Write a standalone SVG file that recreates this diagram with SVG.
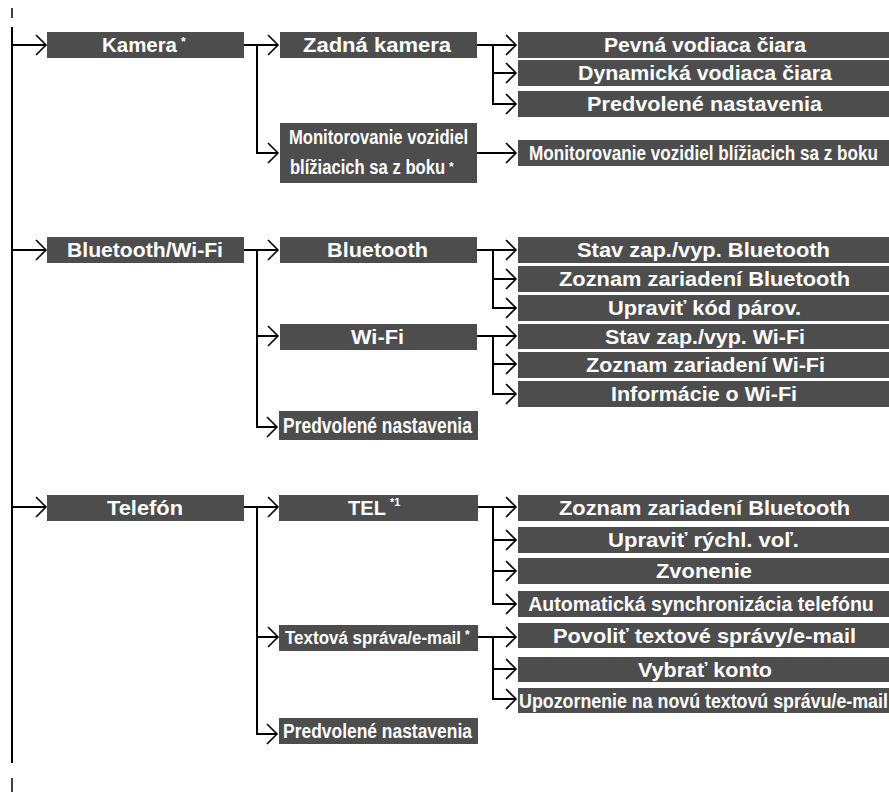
<svg xmlns="http://www.w3.org/2000/svg" width="889" height="792" viewBox="0 0 889 792">
<style>
.b{fill:#4d4d4d}
.t{font-family:"Liberation Sans",Arial,sans-serif;font-weight:bold;font-size:20px;fill:#fff;text-anchor:middle}
.s{font-family:"Liberation Sans",Arial,sans-serif;font-weight:bold;font-size:12px;fill:#fff}
.c{fill:none;stroke:#000;stroke-width:2}
</style>
<defs>
<marker id="ch" markerUnits="userSpaceOnUse" markerWidth="14" markerHeight="22" viewBox="0 0 14 22" refX="11" refY="11" orient="auto">
<path d="M1,1 L11,11 L1,21" fill="none" stroke="#000" stroke-width="1.6"/>
</marker>
</defs>
<rect width="889" height="792" fill="#fff"/>
<g id="connectors" class="c">
<path d="M12,8 V18" stroke-width="1.5"/>
<path d="M12,27 V763"/>
<path d="M12,778 V792" stroke-width="1.5"/>
<path d="M12,45 H46" marker-end="url(#ch)"/>
<path d="M12,250 H46" marker-end="url(#ch)"/>
<path d="M12,507 H46" marker-end="url(#ch)"/>
<path d="M244,45 H278" marker-end="url(#ch)"/>
<path d="M257,45 V153 H278" marker-end="url(#ch)"/>
<path d="M244,250 H278" marker-end="url(#ch)"/>
<path d="M257,250 V336 H278" marker-end="url(#ch)"/>
<path d="M257,336 V427 H277" marker-end="url(#ch)"/>
<path d="M244,507 H278" marker-end="url(#ch)"/>
<path d="M257,507 V637 H278" marker-end="url(#ch)"/>
<path d="M257,637 V734 H277" marker-end="url(#ch)"/>
<path d="M477,45 H516" marker-end="url(#ch)"/>
<path d="M493,45 V73 H516" marker-end="url(#ch)"/>
<path d="M493,73 V104 H516" marker-end="url(#ch)"/>
<path d="M477,153 H516" marker-end="url(#ch)"/>
<path d="M477,250 H516" marker-end="url(#ch)"/>
<path d="M493,250 V279 H516" marker-end="url(#ch)"/>
<path d="M493,279 V308 H516" marker-end="url(#ch)"/>
<path d="M477,336 H516" marker-end="url(#ch)"/>
<path d="M493,336 V364 H516" marker-end="url(#ch)"/>
<path d="M493,364 V394 H516" marker-end="url(#ch)"/>
<path d="M477,507 H516" marker-end="url(#ch)"/>
<path d="M493,507 V540 H516" marker-end="url(#ch)"/>
<path d="M493,540 V571 H516" marker-end="url(#ch)"/>
<path d="M493,571 V604 H516" marker-end="url(#ch)"/>
<path d="M477,637 H516" marker-end="url(#ch)"/>
<path d="M493,637 V669 H516" marker-end="url(#ch)"/>
<path d="M493,669 V699 H516" marker-end="url(#ch)"/>
</g>
<g id="kamera"><rect class="b" x="47" y="32" width="197" height="26"/><text class="t" x="139.5" y="52" textLength="75" lengthAdjust="spacingAndGlyphs">Kamera</text><text class="s" x="181" y="46">*</text></g>
<g id="bluetooth-wifi"><rect class="b" x="47" y="237" width="197" height="26"/><text class="t" x="145" y="257" textLength="156" lengthAdjust="spacingAndGlyphs">Bluetooth/Wi-Fi</text></g>
<g id="telefon"><rect class="b" x="47" y="495" width="197" height="26"/><text class="t" x="145" y="515" textLength="76" lengthAdjust="spacingAndGlyphs">Telefón</text></g>

<g id="zadna-kamera"><rect class="b" x="280" y="32" width="197" height="26"/><text class="t" x="377" y="52" textLength="148" lengthAdjust="spacingAndGlyphs">Zadná kamera</text></g>
<g id="monitorovanie"><rect class="b" x="280" y="123" width="197" height="60"/><text class="t" transform="translate(378.5,144) scale(0.8,1)" textLength="224" lengthAdjust="spacingAndGlyphs">Monitorovanie vozidiel</text><text class="t" transform="translate(367.5,174) scale(0.8,1)" textLength="194" lengthAdjust="spacingAndGlyphs">blížiacich sa z boku</text><text class="s" x="449" y="171">*</text></g>
<g id="bluetooth"><rect class="b" x="280" y="237" width="197" height="26"/><text class="t" x="377.5" y="257" textLength="101" lengthAdjust="spacingAndGlyphs">Bluetooth</text></g>
<g id="wifi"><rect class="b" x="280" y="324" width="197" height="26"/><text class="t" x="377.5" y="344" textLength="53" lengthAdjust="spacingAndGlyphs">Wi-Fi</text></g>
<g id="predvolene-bt"><rect class="b" x="279" y="411" width="199" height="29"/><text class="t" transform="translate(377.5,433) scale(0.8,1)" style="font-size:22px" textLength="236" lengthAdjust="spacingAndGlyphs">Predvolené nastavenia</text></g>
<g id="tel"><rect class="b" x="279" y="495" width="199" height="26"/><text class="t" x="367" y="515">TEL</text><text class="s" x="390" y="506" style="font-size:11px">*1</text></g>
<g id="textova-sprava"><rect class="b" x="279" y="625" width="199" height="26"/><text class="t" transform="translate(373,644) scale(0.8,1)" style="font-size:19px" textLength="220" lengthAdjust="spacingAndGlyphs">Textová správa/e-mail</text><text class="s" x="465" y="639">*</text></g>
<g id="predvolene-tel"><rect class="b" x="279" y="718" width="199" height="26"/><text class="t" transform="translate(377.5,738) scale(0.8,1)" textLength="236" lengthAdjust="spacingAndGlyphs">Predvolené nastavenia</text></g>

<g id="pevna"><rect class="b" x="518" y="32" width="371" height="26"/><text class="t" x="705" y="52" textLength="202" lengthAdjust="spacingAndGlyphs">Pevná vodiaca čiara</text></g>
<g id="dynamicka"><rect class="b" x="518" y="60" width="371" height="26"/><text class="t" x="705" y="80" textLength="254" lengthAdjust="spacingAndGlyphs">Dynamická vodiaca čiara</text></g>
<g id="predvolene-kam"><rect class="b" x="518" y="91" width="371" height="26"/><text class="t" x="704.5" y="111" textLength="235" lengthAdjust="spacingAndGlyphs">Predvolené nastavenia</text></g>
<g id="monitorovanie-3"><rect class="b" x="518" y="140" width="371" height="26"/><text class="t" transform="translate(703.5,160) scale(0.8,1)" textLength="436" lengthAdjust="spacingAndGlyphs">Monitorovanie vozidiel blížiacich sa z boku</text></g>
<g id="stav-bt"><rect class="b" x="518" y="237" width="371" height="26"/><text class="t" x="703.5" y="257" textLength="253" lengthAdjust="spacingAndGlyphs">Stav zap./vyp. Bluetooth</text></g>
<g id="zoznam-bt"><rect class="b" x="518" y="266" width="371" height="26"/><text class="t" x="704.5" y="286" textLength="291" lengthAdjust="spacingAndGlyphs">Zoznam zariadení Bluetooth</text></g>
<g id="upravit-kod"><rect class="b" x="518" y="295" width="371" height="26"/><text class="t" x="704.5" y="315" textLength="193" lengthAdjust="spacingAndGlyphs">Upraviť kód párov.</text></g>
<g id="stav-wifi"><rect class="b" x="518" y="324" width="371" height="25"/><text class="t" x="705" y="344" textLength="200" lengthAdjust="spacingAndGlyphs">Stav zap./vyp. Wi-Fi</text></g>
<g id="zoznam-wifi"><rect class="b" x="518" y="352" width="371" height="26"/><text class="t" x="705.5" y="372" textLength="239" lengthAdjust="spacingAndGlyphs">Zoznam zariadení Wi-Fi</text></g>
<g id="info-wifi"><rect class="b" x="518" y="381" width="371" height="26"/><text class="t" x="704" y="401" textLength="186" lengthAdjust="spacingAndGlyphs">Informácie o Wi-Fi</text></g>
<g id="zoznam-bt-tel"><rect class="b" x="518" y="495" width="371" height="26"/><text class="t" x="704.5" y="515" textLength="291" lengthAdjust="spacingAndGlyphs">Zoznam zariadení Bluetooth</text></g>
<g id="upravit-rychl"><rect class="b" x="518" y="527" width="371" height="26"/><text class="t" x="703.5" y="547" textLength="191" lengthAdjust="spacingAndGlyphs">Upraviť rýchl. voľ.</text></g>
<g id="zvonenie"><rect class="b" x="518" y="558" width="371" height="26"/><text class="t" x="704" y="578" textLength="96" lengthAdjust="spacingAndGlyphs">Zvonenie</text></g>
<g id="auto-sync"><rect class="b" x="518" y="591" width="371" height="26"/><text class="t" transform="translate(701,611) scale(0.8,1)" textLength="432" lengthAdjust="spacingAndGlyphs">Automatická synchronizácia telefónu</text></g>
<g id="povolit"><rect class="b" x="518" y="623" width="371" height="25"/><text class="t" x="704.5" y="643" textLength="303" lengthAdjust="spacingAndGlyphs">Povoliť textové správy/e-mail</text></g>
<g id="vybrat-konto"><rect class="b" x="518" y="657" width="371" height="25"/><text class="t" x="705" y="677" textLength="134" lengthAdjust="spacingAndGlyphs">Vybrať konto</text></g>
<g id="upozornenie"><rect class="b" x="518" y="688" width="371" height="25"/><text class="t" transform="translate(703.5,708) scale(0.8,1)" textLength="461" lengthAdjust="spacingAndGlyphs">Upozornenie na novú textovú správu/e-mail</text></g>
</svg>
